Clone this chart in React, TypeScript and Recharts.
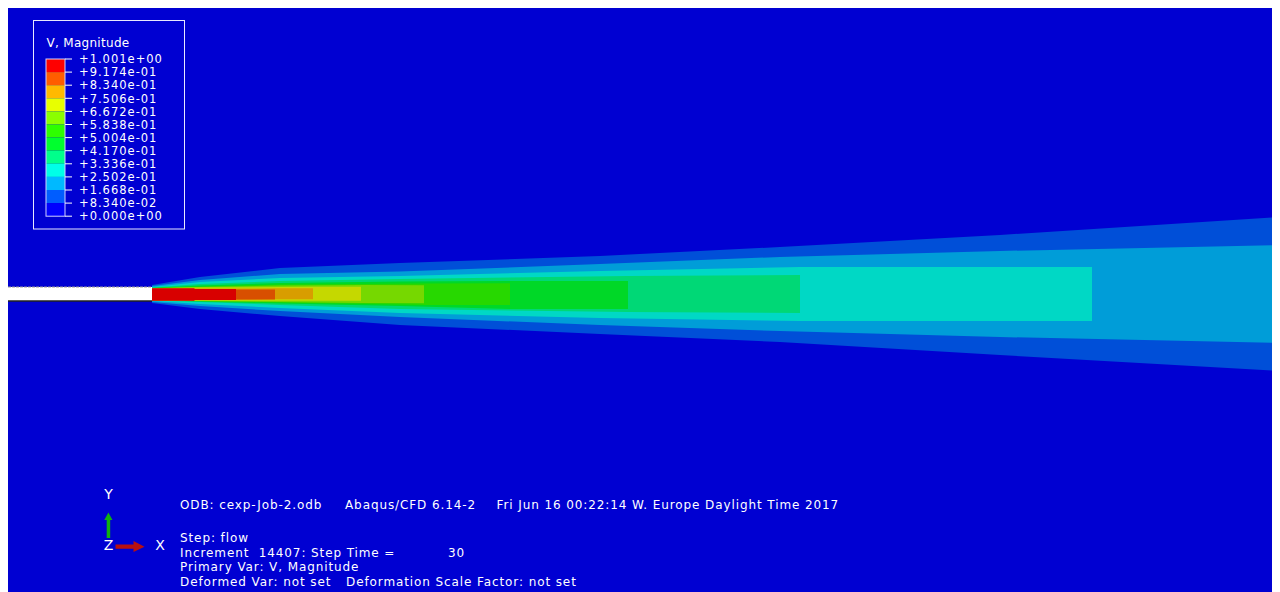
import React from 'react';
import { ComposedChart, Area, XAxis, YAxis, ReferenceArea, ReferenceLine } from 'recharts';

// Plot frame (px) and model window (mm): x = axial distance from nozzle exit, y = offset from jet axis
const WIDTH = 1271;
const HEIGHT = 584;
const X_DOMAIN: [number, number] = [-14.4, 112.7];
const Y_DOMAIN: [number, number] = [-29.8, 28.6];

// Contour levels of velocity magnitude (legend, top to bottom)
const LEVEL_LABELS = [
  '+1.001e+00', '+9.174e-01', '+8.340e-01', '+7.506e-01', '+6.672e-01', '+5.838e-01', '+5.004e-01',
  '+4.170e-01', '+3.336e-01', '+2.502e-01', '+1.668e-01', '+8.340e-02', '+0.000e+00',
];
const LEGEND_COLORS = [
  '#ff0000', '#ff5d00', '#ffb900', '#e8ff00', '#8bff00', '#2eff00',
  '#00ff2e', '#00ff8b', '#00ffe8', '#00b9ff', '#005dff', '#0000ff',
];
// Shaded fill of each band as it appears on the model (same order)
const BAND_COLORS = [
  '#d80000', '#d84f00', '#d89d00', '#c5d800', '#76d800', '#27d800',
  '#00d827', '#00d876', '#00d8c5', '#009dd8', '#004fd8', '#0000d2',
];

// Band envelopes, outer band first: x (mm), upper edge, lower edge (mm)
const band0834X = [0, 4.8, 12.8, 24.8, 44.8, 62.8, 84.8, 112.7];
const band0834Top = [0.9, 1.7, 2.6, 3.1, 3.8, 4.7, 5.9, 7.7];
const band0834Bot = [-0.9, -1.5, -2.2, -3.1, -4.0, -4.8, -6.1, -7.7];

const band1668X = [0, 4.8, 12.8, 24.8, 44.8, 62.8, 84.8, 112.7];
const band1668Top = [0.8, 1.4, 2.0, 2.25, 3.0, 3.7, 4.3, 4.9];
const band1668Bot = [-0.8, -1.2, -1.7, -2.3, -3.1, -3.7, -4.3, -4.9];

const band2502X = [0, 4.8, 12.8, 24.8, 44.8, 64.8, 94];
const band2502Top = [0.7, 1.2, 1.6, 1.8, 2.3, 2.7, 2.7];
const band2502Bot = [-0.7, -1.0, -1.4, -1.9, -2.4, -2.7, -2.7];

const band3336X = [0, 4.8, 12.8, 24.8, 47.6, 64.8];
const band3336Top = [0.65, 1.0, 1.3, 1.5, 1.8, 1.9];
const band3336Bot = [-0.65, -0.8, -1.1, -1.5, -1.8, -1.9];

const band4170X = [0, 4.8, 12.8, 24.8, 35.8, 47.6];
const band4170Top = [0.6, 0.85, 1.1, 1.25, 1.3, 1.3];
const band4170Bot = [-0.6, -0.75, -0.95, -1.2, -1.5, -1.5];

const band5004X = [0, 4.8, 12.8, 27.2, 35.8];
const band5004Top = [0.6, 0.75, 0.95, 1.05, 1.07];
const band5004Bot = [-0.6, -0.7, -0.85, -1.1, -1.1];

const band5838X = [0, 4.8, 12.8, 20.9, 27.2];
const band5838Top = [0.58, 0.7, 0.85, 0.9, 0.87];
const band5838Bot = [-0.65, -0.7, -0.8, -0.9, -0.92];

const band6672X = [0, 4.8, 12.8, 16.1, 20.9];
const band6672Top = [0.58, 0.65, 0.7, 0.73, 0.73];
const band6672Bot = [-0.65, -0.67, -0.67, -0.67, -0.67];

const band7506X = [0, 8.4, 12.3, 16.1];
const band7506Top = [0.58, 0.55, 0.57, 0.57];
const band7506Bot = [-0.66, -0.6, -0.53, -0.53];

const band8340X = [0, 8.4, 12.3];
const band8340Top = [0.5, 0.45, 0.45];
const band8340Bot = [-0.6, -0.55, -0.55];

const band9174X = [0, 4.2, 4.3, 8.4];
const band9174Top = [0.57, 0.57, 0.5, 0.5];
const band9174Bot = [-0.67, -0.67, -0.6, -0.6];

// Nozzle wall (mm)
const NOZZLE_X = [-14.4, 0];
const NOZZLE_Y = [-0.7, 0.7];

type Pt = { x: number; top: number; bot: number };
const zipBand = (xs: number[], top: number[], bot: number[]): Pt[] =>
  xs.map((x, i) => ({ x, top: top[i], bot: bot[i] }));

// Bands drawn from outermost (lowest speed) to the core, each with its shaded colour
const BANDS: { id: string; pts: Pt[]; color: string }[] = [
  { id: 'v0834', pts: zipBand(band0834X, band0834Top, band0834Bot), color: BAND_COLORS[10] },
  { id: 'v1668', pts: zipBand(band1668X, band1668Top, band1668Bot), color: BAND_COLORS[9] },
  { id: 'v2502', pts: zipBand(band2502X, band2502Top, band2502Bot), color: BAND_COLORS[8] },
  { id: 'v3336', pts: zipBand(band3336X, band3336Top, band3336Bot), color: BAND_COLORS[7] },
  { id: 'v4170', pts: zipBand(band4170X, band4170Top, band4170Bot), color: BAND_COLORS[6] },
  { id: 'v5004', pts: zipBand(band5004X, band5004Top, band5004Bot), color: BAND_COLORS[5] },
  { id: 'v5838', pts: zipBand(band5838X, band5838Top, band5838Bot), color: BAND_COLORS[4] },
  { id: 'v6672', pts: zipBand(band6672X, band6672Top, band6672Bot), color: BAND_COLORS[3] },
  { id: 'v7506', pts: zipBand(band7506X, band7506Top, band7506Bot), color: BAND_COLORS[2] },
  { id: 'v8340', pts: zipBand(band8340X, band8340Top, band8340Bot), color: BAND_COLORS[1] },
  { id: 'v9174', pts: zipBand(band9174X, band9174Top, band9174Bot), color: BAND_COLORS[0] },
];

const INFO_FONT = '"DejaVu Sans", Verdana, sans-serif';

function ContourLegend() {
  const x0 = 38;
  const y0 = 51;
  const boxW = 19;
  const boxH = 13.1;
  return (
    <g>
      <rect x={25.5} y={12.5} width={151} height={208.5} fill="none" stroke="#e8e8ff" strokeWidth={1} />
      <text x={38.5} y={38.5} fill="#ffffff" fontSize={12} letterSpacing={0.3} fontFamily={INFO_FONT}>V, Magnitude</text>
      {LEGEND_COLORS.map((c, i) => (
        <rect key={c} x={x0} y={y0 + i * boxH} width={boxW} height={boxH} fill={c} />
      ))}
      <rect x={x0} y={y0} width={boxW} height={boxH * LEGEND_COLORS.length} fill="none" stroke="#d0d0ff" strokeWidth={1} />
      {LEVEL_LABELS.map((t, i) => (
        <g key={t}>
          <line x1={x0 + boxW} x2={x0 + boxW + 7} y1={y0 + i * boxH} y2={y0 + i * boxH} stroke="#ffffff" strokeWidth={1} />
          <text x={71} y={y0 + i * boxH + 4.2} fill="#ffffff" fontSize={11.5} letterSpacing={1.0} fontFamily={INFO_FONT}>{t}</text>
        </g>
      ))}
    </g>
  );
}

function Triad() {
  return (
    <g fontFamily={INFO_FONT} fontSize={14} fill="#ffffff">
      <text x={100.5} y={491} textAnchor="middle">Y</text>
      <polygon points="98.7,530 102.2,530 102.2,512 104.5,512 100.4,504.5 96.3,512 98.7,512" fill="#10b010" />
      <text x={100.5} y={542} textAnchor="middle">Z</text>
      <polygon points="107.5,536.6 125.5,536.6 125.5,533 136.5,538.7 125.5,544 125.5,540.8 107.5,540.8" fill="#b81010" />
      <text x={152} y={542} textAnchor="middle">X</text>
    </g>
  );
}

function InfoText() {
  return (
    <g fontFamily={INFO_FONT} fontSize={12} letterSpacing={0.9} fill="#ffffff">
      <text x={172} y={501}>ODB: cexp-Job-2.odb</text>
      <text x={337} y={501}>Abaqus/CFD 6.14-2</text>
      <text x={488.5} y={501}>Fri Jun 16 00:22:14 W. Europe Daylight Time 2017</text>
      <text x={172} y={534}>Step: flow</text>
      <text x={172} y={549}>{'Increment\u00a0\u00a014407: Step Time ='}</text>
      <text x={440} y={549}>30</text>
      <text x={172} y={563}>Primary Var: V, Magnitude</text>
      <text x={172} y={578}>Deformed Var: not set</text>
      <text x={338} y={578}>Deformation Scale Factor: not set</text>
    </g>
  );
}

export default function App() {
  return (
    <div style={{ position: 'relative', width: WIDTH, height: HEIGHT, background: BAND_COLORS[11] }}>
      <ComposedChart width={WIDTH} height={HEIGHT} margin={{ top: 0, right: 0, bottom: 0, left: 0 }}>
        <XAxis dataKey="x" type="number" domain={X_DOMAIN} hide allowDataOverflow />
        <YAxis type="number" domain={Y_DOMAIN} hide allowDataOverflow />
        {BANDS.map((b) => (
          <Area
            key={b.id}
            data={b.pts}
            dataKey={(d: Pt) => [d.bot, d.top]}
            type="linear"
            stroke="none"
            fill={b.color}
            fillOpacity={1}
            isAnimationActive={false}
            dot={false}
            activeDot={false}
          />
        ))}
        <ReferenceArea x1={NOZZLE_X[0]} x2={NOZZLE_X[1]} y1={NOZZLE_Y[0]} y2={NOZZLE_Y[1]} fill="#ffffff" fillOpacity={1} stroke="none" />
        <ReferenceLine segment={[{ x: NOZZLE_X[0], y: NOZZLE_Y[1] }, { x: NOZZLE_X[1], y: NOZZLE_Y[1] }]} stroke="#9a9a9a" strokeDasharray="3 1" strokeWidth={1} />
        <ReferenceLine segment={[{ x: NOZZLE_X[0], y: NOZZLE_Y[0] }, { x: NOZZLE_X[1], y: NOZZLE_Y[0] }]} stroke="#202020" strokeWidth={1.5} />
      </ComposedChart>
      <svg width={WIDTH} height={HEIGHT} style={{ position: 'absolute', left: 0, top: 0, pointerEvents: 'none' }}>
        <ContourLegend />
        <Triad />
        <InfoText />
      </svg>
    </div>
  );
}
